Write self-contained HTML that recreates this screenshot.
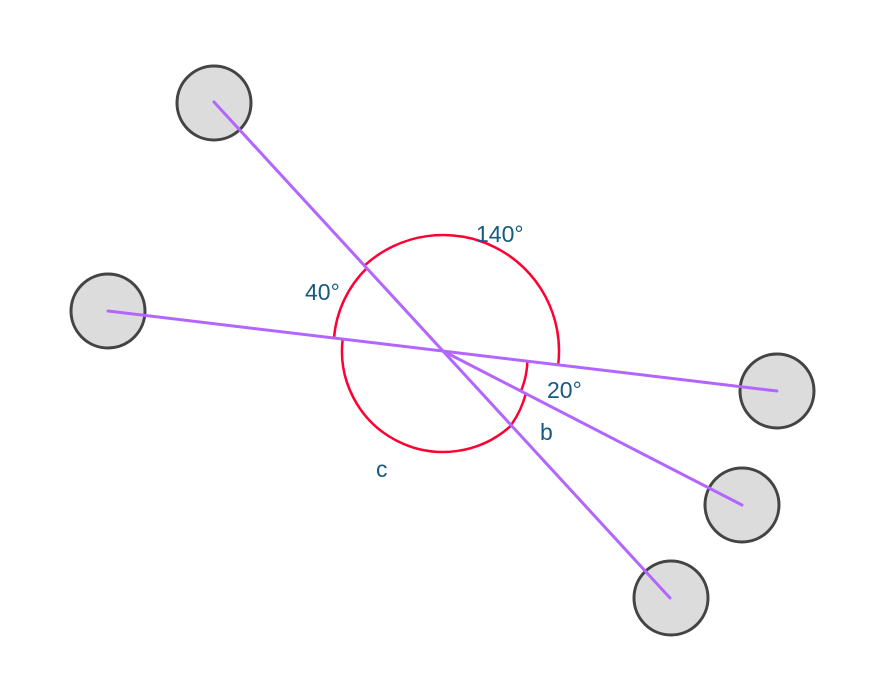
<!DOCTYPE html>
<html><head><meta charset="utf-8"><style>html,body{margin:0;padding:0;background:#fff}svg{display:block}</style></head>
<body>
<svg width="880" height="681" viewBox="0 0 880 681" xmlns="http://www.w3.org/2000/svg">
<g fill="#dcdcdc" stroke="#444" stroke-width="3">
<circle cx="214" cy="103" r="37"/>
<circle cx="108" cy="311" r="37"/>
<circle cx="777" cy="391" r="37"/>
<circle cx="742" cy="505" r="37"/>
<circle cx="671" cy="598" r="37"/>
</g>
<g fill="none" stroke="#ff0033" stroke-width="2.5">
<path d="M364.5 265.6 A116 116 0 0 1 558.2 364.7"/>
<path d="M334 338 A110 110 0 0 1 367 268"/>
<path d="M527.4 361.1 A85 85 0 0 1 521 391"/>
<path d="M526 393 A97 97 0 0 1 511.5 424.5"/>
<path d="M511.4 425.3 A101 101 0 0 1 342.7 339"/>
</g>
<g stroke="#b266ff" stroke-width="3" stroke-linecap="round">
<line x1="214" y1="102" x2="670" y2="598"/>
<line x1="108" y1="311" x2="777" y2="391"/>
<line x1="443" y1="351" x2="742" y2="505"/>
</g>
<g fill="#155a80" font-family="Liberation Sans, sans-serif" font-size="23">
<text x="476" y="242">140°</text>
<text x="305" y="300">40°</text>
<text x="547" y="398">20°</text>
<text x="540" y="440">b</text>
<text x="376" y="477">c</text>
</g>
</svg>
</body></html>
